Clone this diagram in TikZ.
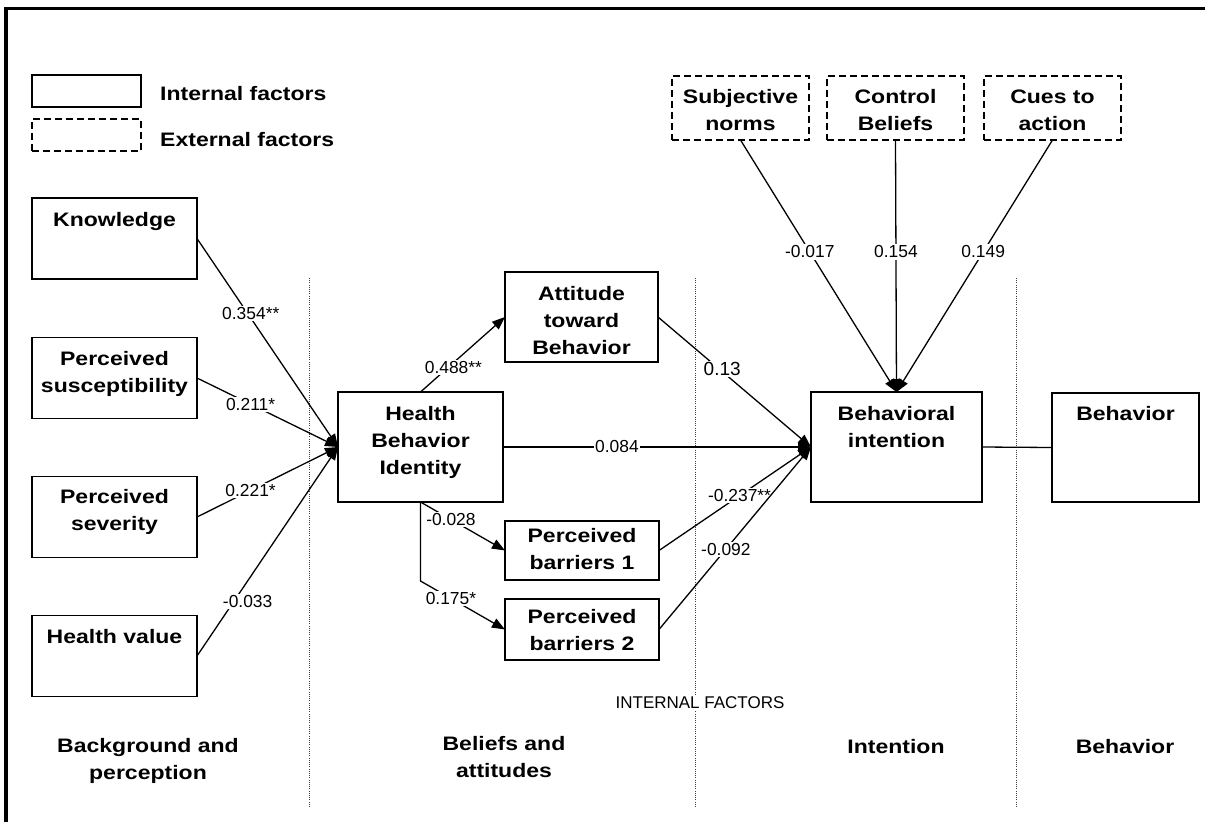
\documentclass[tikz,border=0pt]{standalone}
\usepackage{fontspec}
\setmainfont{Liberation Sans}[BoldFeatures={FakeStretch=1.18}]
\usetikzlibrary{arrows.meta}
\begin{document}
\begin{tikzpicture}[x=1pt,y=-1pt,line join=miter,
  box/.style={draw, line width=1.8pt, inner sep=0pt, outer sep=0pt},
  ext/.style={box, dash pattern=on 7pt off 4pt},
  btxt/.style={font=\bfseries\fontsize{19.5}{27}\selectfont, align=center, inner sep=0pt, anchor=base},
  lab/.style={fill=white, inner sep=1.5pt, font=\fontsize{17.4}{20}\selectfont},
  conn/.style={line width=1.3pt},
  arr/.style={conn, -{Triangle[length=13pt,width=10pt]}},
  sepline/.style={line width=0.9pt, dash pattern=on 1pt off 1.2pt, black!75}]
\useasboundingbox (0,0) rectangle (1205,822);
% frame
\draw[line width=3.5pt] (6,822) -- (6,8.5) -- (1205,8.5);
% separators
\coordinate (s1a) at (309,278); \coordinate (s1b) at (309,808);
\coordinate (s2a) at (695,278); \coordinate (s2b) at (695,808);
\coordinate (s3a) at (1016,278); \coordinate (s3b) at (1016,808);
\draw[sepline] (s1a) -- (s1b);
\draw[sepline] (s2a) -- (s2b);
\draw[sepline] (s3a) -- (s3b);
\node[fill=white, inner sep=2pt, font=\fontsize{17}{20}\selectfont] (intf) at (700,703) {INTERNAL FACTORS};
% legend
\node[box, minimum width=109pt, minimum height=32pt] (lin) at (86.5,91) {};
\node[ext, minimum width=109pt, minimum height=32pt] (lex) at (86.5,135) {};
\node[btxt, anchor=base west] (lint) at (160,100) {Internal factors};
\node[btxt, anchor=base west] (lext) at (160,146) {External factors};
% boxes
\node[box, minimum width=165pt, minimum height=81pt] (kn) at (114.5,238.5) {};
\node[box, minimum width=165pt, minimum height=81pt] (su) at (114.5,378) {};
\node[box, minimum width=165pt, minimum height=81pt] (se) at (114.5,517) {};
\node[box, minimum width=165pt, minimum height=81pt] (hv) at (114.5,656) {};
\node[box, minimum width=165pt, minimum height=110pt] (hbi) at (420.5,447) {};
\node[box, minimum width=153pt, minimum height=90pt] (atb) at (581.5,317) {};
\node[box, minimum width=154pt, minimum height=59pt] (pb1) at (582,550.5) {};
\node[box, minimum width=154pt, minimum height=61pt] (pb2) at (582,629.5) {};
\node[box, minimum width=171pt, minimum height=110pt] (bi) at (896.5,447) {};
\node[box, minimum width=147pt, minimum height=109pt] (beh) at (1125.5,447.5) {};
\node[ext, minimum width=137pt, minimum height=64pt] (sn) at (740.5,108) {};
\node[ext, minimum width=137pt, minimum height=64pt] (cb) at (895.5,108) {};
\node[ext, minimum width=137pt, minimum height=64pt] (cu) at (1052.5,108) {};
% box texts (base = baseline of the last line)
\node[btxt] (knt) at (114.5,226) {Knowledge};
\node[btxt] (sut) at (114.5,392) {Perceived\\susceptibility};
\node[btxt] (set) at (114.5,530) {Perceived\\severity};
\node[btxt] (hvt) at (114.5,643) {Health value};
\node[btxt] (hbit) at (420.5,474) {Health\\Behavior\\Identity};
\node[btxt] (atbt) at (581.5,354) {Attitude\\toward\\Behavior};
\node[btxt] (pb1t) at (582,569) {Perceived\\barriers 1};
\node[btxt] (pb2t) at (582,650) {Perceived\\barriers 2};
\node[btxt] (bit) at (896.5,447) {Behavioral\\intention};
\node[btxt] (beht) at (1125.5,420) {Behavior};
\node[btxt] (snt) at (740.5,130) {Subjective\\norms};
\node[btxt] (cbt) at (895.5,130) {Control\\Beliefs};
\node[btxt] (cut) at (1052.5,130) {Cues to\\action};
% column headings
\node[btxt] (h1) at (148,779) {Background and\\perception};
\node[btxt] (h2) at (504,777) {Beliefs and\\attitudes};
\node[btxt] (h3) at (896,753) {Intention};
\node[btxt] (h4) at (1125,753) {Behavior};
% connectors
\draw[arr] (kn.east) -- node[lab,pos=.36,xshift=3pt]{0.354**} (hbi.west);
\draw[arr] (su.east) -- node[lab,pos=.38]{0.211*} (hbi.west);
\draw[arr] (se.east) -- node[lab,pos=.38]{0.221*} (hbi.west);
\draw[arr] (hv.east) -- node[lab,pos=.26,xshift=14pt]{-0.033} (hbi.west);
\draw[arr] (hbi.north) -- node[lab,pos=.33,xshift=5pt]{0.488**} (atb.west);
\draw[arr] (hbi.south) -- node[lab,pos=.36]{-0.028} (pb1.west);
\draw[arr] (hbi.south) -- ++(0,79) coordinate (elb) -- node[lab,pos=.36]{0.175*} (pb2.west);
\draw[arr] (hbi.east) -- node[lab,pos=.37]{0.084} (bi.west);
\draw[arr] (atb.east) -- node[lab,pos=.40,xshift=3pt,font=\fontsize{19}{22}\selectfont]{0.13} (bi.west);
\draw[arr] (pb1.east) -- node[lab,pos=.53]{-0.237**} (bi.west);
\draw[arr] (pb2.east) -- node[lab,pos=.44]{-0.092} (bi.west);
\draw[arr] (sn.south) -- node[lab,pos=.444]{-0.017} (bi.north);
\draw[arr] (cb.south) -- node[lab,pos=.444]{0.154} (bi.north);
\draw[arr] (cu.south) -- node[lab,pos=.444]{0.149} (bi.north);
\draw[conn] (bi.east) -- (beh.west);
\end{tikzpicture}
\end{document}
